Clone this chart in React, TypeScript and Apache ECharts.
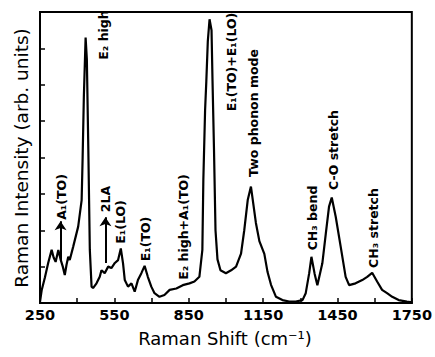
import React, { useEffect, useRef } from "react";
import * as echarts from "echarts";

const shift = [
  250, 257, 270, 283, 297, 305, 313, 324, 333, 342, 350, 357, 364, 370, 384,
  404, 418, 422, 427, 434, 439, 445, 451, 458, 464, 478, 491, 498, 511, 525,
  538, 552, 565, 576, 585, 592, 605, 619, 632, 645, 659, 672, 685, 699, 712,
  732, 752, 773, 800, 826, 853, 873, 893, 905, 909, 916, 921, 927, 934, 942,
  946, 952, 958, 966, 978, 1000, 1021, 1041, 1061, 1074, 1088, 1101, 1121, 1135, 1155,
  1168, 1182, 1202, 1228, 1255, 1282, 1309, 1322, 1336, 1345, 1358, 1369, 1389, 1403, 1416,
  1427, 1443, 1463, 1483, 1497, 1523, 1550, 1570, 1590, 1610, 1630, 1650, 1671, 1697, 1730,
  1750,
];

const intensity = [
  0.03, 0.36, 0.71, 1.1, 1.46, 1.25, 1.13, 1.46, 1.2, 1.0, 0.77, 1.05, 1.27, 1.18, 1.55,
  2.1, 2.83, 4.0, 5.7, 7.3, 6.7, 4.2, 1.46, 0.45, 0.41, 0.54, 0.72, 0.9, 0.82, 1.0,
  0.96, 1.1, 1.18, 1.5, 1.09, 0.63, 0.45, 0.54, 0.31, 0.63, 0.82, 1.02, 0.72, 0.45, 0.27,
  0.17, 0.22, 0.36, 0.4, 0.49, 0.54, 0.59, 0.72, 1.46, 3.4, 5.3, 6.1, 7.2, 7.8, 7.5,
  6.1, 4.2, 2.0, 1.2, 0.9, 0.82, 0.9, 1.0, 1.36, 2.0, 2.83, 3.2, 2.2, 1.7, 1.35,
  0.85, 0.5, 0.17, 0.08, 0.04, 0.04, 0.08, 0.27, 0.82, 1.27, 0.8, 0.49, 1.09, 1.91, 2.65,
  2.9, 2.37, 1.55, 0.72, 0.49, 0.54, 0.63, 0.72, 0.83, 0.59, 0.36, 0.27, 0.17, 0.08, 0.04,
  0.02,
];

const labelledTicks = [250, 550, 850, 1150, 1450, 1750];

// arrows: [x, from, to] in data units
const arrowX = [333, 514];
const arrowFrom = [1.18, 1.1];
const arrowTo = [2.25, 2.36];

// peak annotations (text, pixel centre)
const annoText = [
  "E₂ high",
  "A₁(TO)",
  "2LA",
  "E₁(LO)",
  "E₁(TO)",
  "E₂ high+A₁(TO)",
  "E₁(TO)+E₁(LO)",
  "Two phonon mode",
  "CH₃ bend",
  "C-O stretch",
  "CH₃ stretch",
];
const annoX = [103, 61, 105, 120, 145, 183, 231, 253, 312, 333, 373];
const annoY = [35, 197, 199, 222, 239, 227, 62, 113, 218, 150, 228];

export default function App() {
  const ref = useRef<HTMLDivElement>(null);
  useEffect(() => {
    if (!ref.current) return;
    const chart = echarts.init(ref.current, null, { renderer: "svg" });
    const data = shift.map((x, i) => [x, intensity[i]]);
    const annoFont = 'bold 12.5px "DejaVu Sans"';
    const graphics: any[] = annoText.map((t, i) => ({
      type: "text",
      x: annoX[i],
      y: annoY[i],
      rotation: Math.PI / 2,
      style: {
        text: t,
        font: annoFont,
        fill: "#000",
        align: "center",
        verticalAlign: "middle",
      },
      z: 10,
    }));
    graphics.push({
      type: "text",
      x: 225,
      y: 338,
      style: {
        text: "Raman Shift (cm⁻¹)",
        font: '18px "DejaVu Sans"',
        fill: "#000",
        align: "center",
        verticalAlign: "middle",
      },
    });
    graphics.push({
      type: "text",
      x: 21,
      y: 158,
      rotation: Math.PI / 2,
      style: {
        text: "Raman Intensity (arb. units)",
        font: '18.5px "DejaVu Sans"',
        fill: "#000",
        align: "center",
        verticalAlign: "middle",
      },
    });
    chart.setOption({
      animation: false,
      grid: {
        left: 40,
        right: 22,
        top: 12,
        bottom: 54,
        show: true,
        borderColor: "#000",
        borderWidth: 2,
      },
      xAxis: {
        type: "value",
        min: 250,
        max: 1750,
        interval: 150,
        axisLine: { lineStyle: { color: "#000", width: 2 } },
        axisTick: { inside: true, length: 5, lineStyle: { color: "#000", width: 1.5 } },
        splitLine: { show: false },
        axisLabel: {
          margin: 4,
          color: "#000",
          fontSize: 14.5,
          fontWeight: "bold",
          fontFamily: "DejaVu Sans",
          formatter: (v: number) => (labelledTicks.includes(v) ? String(v) : ""),
        },
      },
      yAxis: {
        type: "value",
        min: 0,
        max: 8,
        interval: 1,
        axisLine: { lineStyle: { color: "#000", width: 2 } },
        axisTick: { inside: true, length: 5, lineStyle: { color: "#000", width: 1.5 } },
        splitLine: { show: false },
        axisLabel: { show: false },
      },
      series: [
        {
          type: "line",
          data,
          showSymbol: false,
          symbol: "none",
          lineStyle: { color: "#000", width: 2.2 },
          markLine: {
            silent: true,
            symbol: ["none", "arrow"],
            symbolSize: 9,
            label: { show: false },
            lineStyle: { color: "#000", width: 2, type: "solid" },
            data: arrowX.map((x, i) => [
              { coord: [x, arrowFrom[i]] },
              { coord: [x, arrowTo[i]] },
            ]),
          },
        },
      ],
      graphic: graphics,
    });
    return () => chart.dispose();
  }, []);
  return (
    <div
      ref={ref}
      style={{ position: "absolute", left: 0, top: 0, width: 435, height: 357 }}
    />
  );
}
